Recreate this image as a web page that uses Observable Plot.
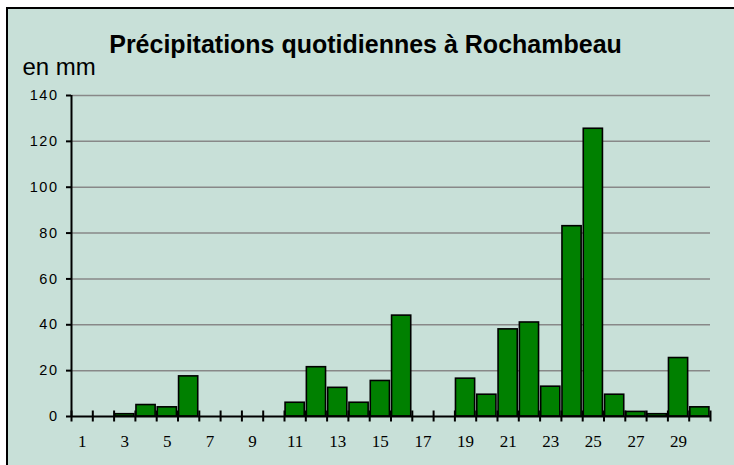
<!DOCTYPE html>
<html><head><meta charset="utf-8">
<script src="https://cdn.jsdelivr.net/npm/d3@7"></script>
<script src="https://cdn.jsdelivr.net/npm/@observablehq/plot@0.6"></script>
<style>
body{margin:0;background:#fff;}
#wrap{position:relative;width:734px;height:465px;overflow:hidden;}
#bg{position:absolute;left:6px;top:7px;width:800px;height:600px;border:2px solid #000;background:#c8e0d8;}
#chart{position:absolute;left:0;top:0;}
</style></head><body>
<div id="wrap"><div id="bg"></div><div id="chart"></div></div>
<script>
const days = d3.range(1, 31);
const rain = [0,0,1,5,4,17.5,0,0,0,0,6,21.5,12.5,6,15.5,44,0,0,16.5,9.5,38,41,13,83,125.5,9.5,2,1,25.5,4];
const yTicks = [0,20,40,60,80,100,120,140];
const xTickLabels = days.filter(d => d % 2 === 1);
const title = "Précipitations quotidiennes à Rochambeau";
const yLabel = "en mm";

const data = days.map((d, i) => ({day: d, mm: rain[i]}));
const bounds = [...days.map(d => d - 0.5), days.length + 0.5];

const chart = Plot.plot({
  width: 734, height: 465,
  marginLeft: 71, marginRight: 24, marginTop: 95, marginBottom: 49,
  style: {background: "transparent", fontFamily: "'Liberation Sans', Arial, sans-serif", color: "#000"},
  x: {domain: [0.5, days.length + 0.5]},
  y: {domain: [0, 140]},
  marks: [
    Plot.gridY(yTicks.filter(v => v > 0), {stroke: "#888", strokeOpacity: 1, strokeWidth: 1.5}),
    Plot.rectY(data, {x1: d => d.day - 0.45, x2: d => d.day + 0.45, y: "mm", fill: "#008000", stroke: "#000", strokeWidth: 1.6}),
    Plot.ruleY([0], {stroke: "#000", strokeWidth: 2}),
    Plot.ruleX([0.5], {y1: 0, y2: 140, stroke: "#000", strokeWidth: 2}),
    Plot.ruleX(bounds, {y1: -2.4, y2: 2.4, stroke: "#000", strokeWidth: 2}),
    Plot.axisY({ticks: yTicks, tickSize: 5, tickPadding: 8, fontSize: 14.5, label: null, stroke: "#000", strokeWidth: 2}),
    Plot.axisX({ticks: xTickLabels, tickSize: 0, tickPadding: 18, fontSize: 17, fontFamily: "'Liberation Serif', 'Times New Roman', serif", label: null, tickFormat: d => d}),
    Plot.text([title], {frameAnchor: "top-left", dx: 294, dy: -43, textAnchor: "middle", lineAnchor: "bottom", fontSize: 25, fontWeight: "bold"}),
    Plot.text([yLabel], {frameAnchor: "top-left", dx: -49, dy: -21, textAnchor: "start", lineAnchor: "bottom", fontSize: 24})
  ]
});
d3.select(chart).selectAll('g[aria-label="y-axis tick label"]').style("font-size", "14.5px");
d3.select(chart).selectAll('g[aria-label="y-axis tick label"] text').style("letter-spacing", "1.5px");
d3.select(chart).selectAll('g[aria-label="x-axis tick label"]').style("font-size", "17px").style("font-family", "'Liberation Serif', 'Times New Roman', serif");
document.getElementById("chart").appendChild(chart);
</script>
</body></html>
